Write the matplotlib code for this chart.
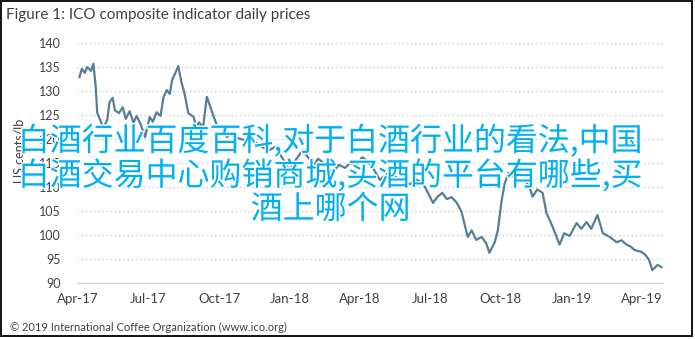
import numpy as np
import pandas as pd
import matplotlib
matplotlib.use("Agg")
from matplotlib import pyplot as plt
import matplotlib.dates as mdates
import matplotlib.patheffects as pe
from matplotlib.patches import Rectangle

# ICO composite indicator (US cents/lb)
dates = [
    "2017-04-03", "2017-04-06", "2017-04-10", "2017-04-13", "2017-04-18", "2017-04-21",
    "2017-04-24", "2017-04-26", "2017-05-01", "2017-05-04", "2017-05-09", "2017-05-12",
    "2017-05-16", "2017-05-19", "2017-05-24", "2017-05-29", "2017-06-02", "2017-06-07",
    "2017-06-12", "2017-06-16", "2017-06-21", "2017-06-27", "2017-07-03", "2017-07-07",
    "2017-07-12", "2017-07-17", "2017-07-21", "2017-07-25", "2017-07-29", "2017-08-01",
    "2017-08-05", "2017-08-09", "2017-08-13", "2017-08-17", "2017-08-22", "2017-08-29",
    "2017-09-01", "2017-09-05", "2017-09-10", "2017-09-15", "2017-09-20", "2017-09-24",
    "2017-09-29", "2017-10-06", "2017-10-11", "2017-10-15", "2017-10-24", "2017-11-03",
    "2017-11-10", "2017-11-19", "2017-11-27", "2017-12-05", "2017-12-13", "2017-12-22",
    "2017-12-31", "2018-01-08", "2018-01-17", "2018-01-26", "2018-01-30", "2018-02-06",
    "2018-02-12", "2018-02-25", "2018-03-05", "2018-03-13", "2018-03-20", "2018-03-28",
    "2018-04-04", "2018-04-10", "2018-04-20", "2018-04-27", "2018-05-07", "2018-05-16",
    "2018-05-25", "2018-06-05", "2018-06-13", "2018-06-22", "2018-07-01", "2018-07-05",
    "2018-07-11", "2018-07-17", "2018-07-23", "2018-07-29", "2018-08-05", "2018-08-11",
    "2018-08-19", "2018-08-24", "2018-08-30", "2018-09-06", "2018-09-12", "2018-09-16",
    "2018-09-23", "2018-09-27", "2018-10-02", "2018-10-06", "2018-10-11", "2018-10-17",
    "2018-10-25", "2018-11-03", "2018-11-07", "2018-11-11", "2018-11-17", "2018-11-24",
    "2018-11-29", "2018-12-07", "2018-12-16", "2018-12-22", "2018-12-29", "2019-01-07",
    "2019-01-13", "2019-01-20", "2019-01-26", "2019-02-03", "2019-02-10", "2019-02-19",
    "2019-02-28", "2019-03-06", "2019-03-13", "2019-03-18", "2019-03-23", "2019-04-01",
    "2019-04-06", "2019-04-11", "2019-04-15", "2019-04-22", "2019-04-27",
]
prices = [
    132.9, 134.6, 133.8, 135.0, 134.2, 135.7,
    131.0, 125.5, 123.5, 122.3, 124.0, 127.7,
    128.6, 126.0, 125.4, 126.6, 124.2, 125.8,
    123.4, 124.8, 123.2, 120.4, 124.6, 123.6,
    125.6, 124.8, 128.8, 130.2, 129.4, 132.3,
    133.7, 135.2, 131.9, 129.6, 125.4, 124.6,
    122.5, 123.5, 122.3, 128.8, 126.5, 124.6,
    122.5, 122.8, 120.4, 121.0, 120.2, 119.8,
    120.6, 119.0, 118.2, 117.7, 118.4, 116.0,
    113.5, 115.6, 117.7, 115.8, 114.0, 115.9,
    115.2, 113.0, 114.6, 114.0, 115.1, 114.4,
    116.2, 115.6, 113.5, 111.5, 112.8, 112.2,
    111.4, 110.6, 111.6, 110.8, 108.0, 106.7,
    108.0, 108.8, 107.5, 107.9, 106.7, 104.8,
    99.6, 101.0, 99.0, 99.6, 98.3, 96.3,
    98.5, 101.0, 107.3, 110.8, 113.0, 112.2,
    111.5, 111.0, 110.0, 108.0, 109.5, 108.8,
    104.6, 101.7, 98.0, 100.4, 99.8, 102.5,
    101.3, 102.7, 101.3, 104.2, 100.4, 99.6,
    98.5, 98.9, 98.0, 97.6, 96.9, 96.5,
    95.9, 94.8, 92.7, 93.8, 93.3,
]

yticks = [90, 95, 100, 105, 110, 115, 120, 125, 130, 135, 140]
xticks = ["2017-04-01", "2017-07-01", "2017-10-01", "2018-01-01", "2018-04-01",
          "2018-07-01", "2018-10-01", "2019-01-01", "2019-04-01"]
title = "Figure 1: ICO composite indicator daily prices"
footer = "\u00a9 2019 International Coffee Organization (www.ico.org)"
overlay = "白酒行业百度百科,对于白酒行业的看法,中国\n白酒交易中心购销商城,买酒的平台有哪些,买\n酒上哪个网"

plt.rcParams['font.family'] = ['Lato', 'DejaVu Sans']
grey = '#404040'

fig = plt.figure(figsize=(6.95, 3.39), dpi=100)
fig.patches.append(Rectangle((0.002, 0.008), 0.994, 0.989, transform=fig.transFigure,
                             fill=False, edgecolor='black', linewidth=1.3))

ax = fig.add_axes([0.111, 0.165, 0.843, 0.708])
ax.plot(pd.to_datetime(dates), prices, color='#557f97', linewidth=1.6)

ax.set_ylim(90, 140)
ax.set_yticks(yticks)
ax.set_xlim(pd.Timestamp("2017-03-31"), pd.Timestamp("2019-04-29"))
ax.set_xticks(pd.to_datetime(xticks))
ax.xaxis.set_major_formatter(mdates.DateFormatter("%b-%y"))
ax.tick_params(length=0, labelsize=9, labelcolor=grey)
ax.tick_params(axis='x', labelsize=9.5, pad=7)
ax.tick_params(axis='y', pad=12)
ax.grid(axis='y', linestyle=(0, (1, 2)), color='#cccccc', linewidth=1.0)
for s in ['top', 'right', 'left']:
    ax.spines[s].set_visible(False)
ax.spines['bottom'].set_color('#d0d0d0')
ax.set_ylabel("US cents/lb", fontsize=9, color=grey)
ax.yaxis.set_label_coords(-0.088, 0.55)

fig.text(0.008, 0.955, title, fontsize=11, color=grey, va='center', ha='left')
fig.text(0.014, 0.035, footer, fontsize=8, color=grey, va='center', ha='left')

fig.text(0.476, 0.484, overlay, fontsize=23, color='#00b0f0', ha='center', va='center',
         family=['Noto Sans CJK SC', 'DejaVu Sans'], linespacing=1.05,
         path_effects=[pe.withStroke(linewidth=2, foreground='white')])

fig.savefig("out.png", dpi=100)
